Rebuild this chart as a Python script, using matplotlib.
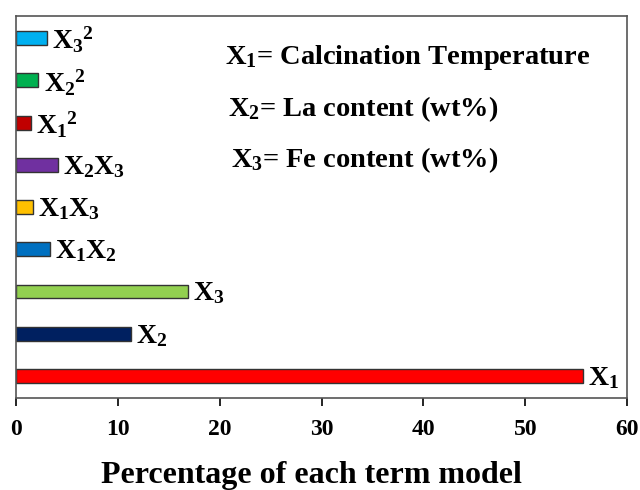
import matplotlib.pyplot as plt

plt.rcParams['font.family'] = 'Liberation Serif'
plt.rcParams['font.weight'] = 'bold'
plt.rcParams['mathtext.fontset'] = 'custom'
plt.rcParams['mathtext.rm'] = 'Liberation Serif:bold'
plt.rcParams['mathtext.bf'] = 'Liberation Serif:bold'
plt.rcParams['mathtext.it'] = 'Liberation Serif:bold'

terms = ['$X_1$', '$X_2$', '$X_3$', '$X_1X_2$', '$X_1X_3$', '$X_2X_3$',
         '$X_1{}^2$', '$X_2{}^2$', '$X_3{}^2$']
values = [55.7, 11.3, 16.9, 3.3, 1.7, 4.1, 1.5, 2.2, 3.0]
colors = ['#FF0000', '#002060', '#92D050', '#0070C0', '#FFC000', '#7030A0',
          '#C00000', '#00B050', '#00B0F0']

fig = plt.figure(figsize=(6.4, 4.9), dpi=100)
ax = fig.add_axes([0.025, 0.188, 0.955, 0.779])

pos = range(len(values))
ax.barh(pos, values, height=0.33, color=colors, edgecolor='#333333', linewidth=1)

for i in pos:
    ax.text(values[i] + 0.5, i - 0.05, terms[i], fontsize=20, va='center', ha='left')

ax.set_xlim(0, 60)
ax.set_ylim(-0.52, 8.52)
ax.set_yticks([])
ax.set_xticks(range(0, 61, 10))
ax.tick_params(axis='x', direction='out', length=6, width=1.2, labelsize=17, pad=9)
for s in ax.spines.values():
    s.set_color('#555555')
    s.set_linewidth(1.2)

ax.set_xlabel('Percentage of each term model', fontsize=23, fontweight='bold')
ax.xaxis.set_label_coords(0.483, -0.165)

ax.text(20.5, 7.55, '$X_1$= Calcination Temperature', fontsize=20.5, va='center')
ax.text(20.8, 6.33, '$X_2$= La content (wt%)', fontsize=20.5, va='center')
ax.text(21.1, 5.1, '$X_3$= Fe content (wt%)', fontsize=20.5, va='center')

fig.savefig('out.png')
